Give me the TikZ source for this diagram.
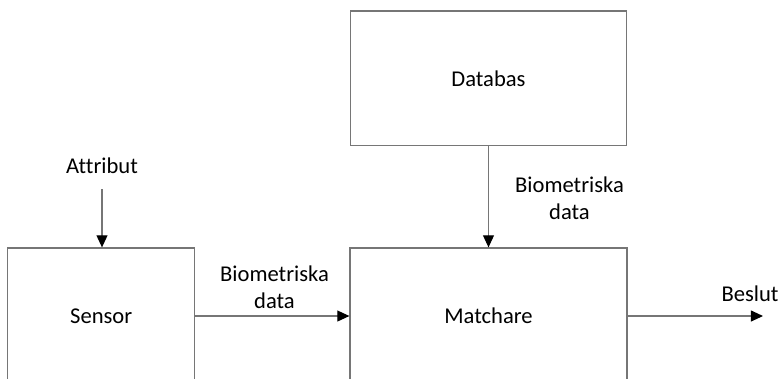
\documentclass[tikz,border=0pt]{standalone}
\usepackage{fontspec}
\setmainfont{Carlito}[Ligatures=NoCommon]
\usepackage{tikz}
\usetikzlibrary{
    arrows.meta,
    positioning
}
\definecolor{bioline}{RGB}{118,118,118}

\begin{document}
\begin{tikzpicture}[
        x=0.2646mm, y=-0.2646mm,
        font=\fontsize{17}{20.5}\selectfont,
        box/.style={
            draw=bioline,
            line width=0.9pt,
            align=center,
            minimum height=36mm,
            inner sep=0pt
        },
        tag/.style={
            align=center,
            inner sep=0pt
        },
        arrow/.style={
            -{Triangle[length=3.2mm, width=2.9mm, color=black]},
            line width=0.9pt,
            draw=bioline
        }
    ]

    \useasboundingbox (0,0) rectangle (781,378);
    \clip (0,0) rectangle (781,378);

    \node[box, minimum width=73.3mm] (matchare) at (488.5,316) {Matchare};

    \node[box, minimum width=49.5mm, left=40.75mm of matchare] (sensor) {Sensor};

    \node[box, minimum width=73mm, minimum height=35.7mm, above=26.7mm of matchare] (databas) {Databas};

    \node[tag, anchor=base] (attribut) at (102,173) {Attribut};

    \node[tag, anchor=south] (biosensor) at (274.5,309) {Biometriska\\data};

    \node[tag, anchor=south] (biodatabas) at (569.5,220) {Biometriska\\data};

    \node[tag, anchor=base] (beslut) at (750,301) {Beslut};

    \coordinate (beslutend) at (763,316);

    \draw[arrow, shorten <=4.2mm] (attribut) -- (attribut |- sensor.north);
    \draw[arrow] (sensor) -- (matchare);
    \draw[arrow] (databas) -- (matchare);
    \draw[arrow] (matchare.east) -- (beslutend);

\end{tikzpicture}
\end{document}
